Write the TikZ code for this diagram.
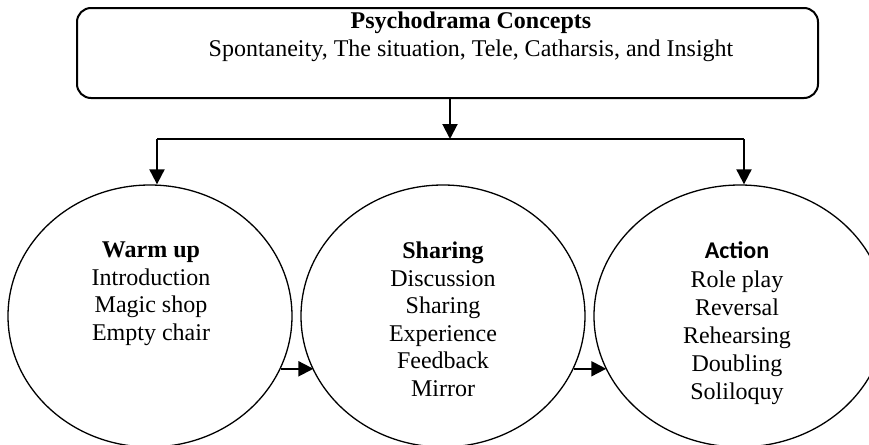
\documentclass[tikz,border=0pt]{standalone}
\usepackage{fontspec}
\setmainfont{Liberation Serif}
\newfontfamily\headfont{Carlito}
\usetikzlibrary{shapes.geometric,arrows.meta}

\begin{document}
\begin{tikzpicture}[x=0.5pt,y=-0.5pt,line width=1pt,
  >={Triangle[length=7.5pt,width=7.5pt]},
  txt/.style={align=center,anchor=north,inner sep=0pt,font=\fontsize{12}{13.75}\selectfont},
  stage/.style={draw,ellipse,line width=0.65pt,minimum width=142pt,minimum height=131pt,inner sep=0pt}]
\useasboundingbox (0,0) rectangle (869,445);

\node[draw,rounded corners=7pt,minimum width=370.5pt,minimum height=45pt] (concepts) at (447.5,53) {};
\node[txt] (conceptstext) at (471,11) {\textbf{Psychodrama Concepts}\\Spontaneity, The situation, Tele, Catharsis, and Insight};

\node[stage] (warmup) at (150,316) {};
\node[stage] (sharing) at (443,316) {};
\node[stage,minimum width=146pt] (action) at (740,316) {};

\node[txt] (warmuptext) at (151,241) {\textbf{Warm up}\\Introduction\\Magic shop\\Empty chair};
\node[txt] (sharingtext) at (443,241) {\textbf{Sharing}\\Discussion\\Sharing\\Experience\\Feedback\\Mirror};
\node[txt,font=\fontsize{12}{14.1}\selectfont] (actiontext) at (737,241) {{\headfont\bfseries Action}\\Role play\\Reversal\\Rehearsing\\Doubling\\Soliloquy};

% split under the concepts box
\coordinate (split) at (450,139);
\coordinate (leftdrop) at (157,139);
\coordinate (rightdrop) at (744,139);
\draw[->] (concepts.south -| split) -- (split);
\draw (leftdrop) -- (rightdrop);
\draw[->] (leftdrop) -- (leftdrop |- warmup.north);
\draw[->] (rightdrop) -- (rightdrop |- action.north);

% flow between the stages
\draw[->] (warmup.-22.7) -- (sharing.-157.2 |- warmup.-22.7);
\draw[->] (sharing.-22.7) -- (action.-158 |- sharing.-22.7);
\end{tikzpicture}
\end{document}
